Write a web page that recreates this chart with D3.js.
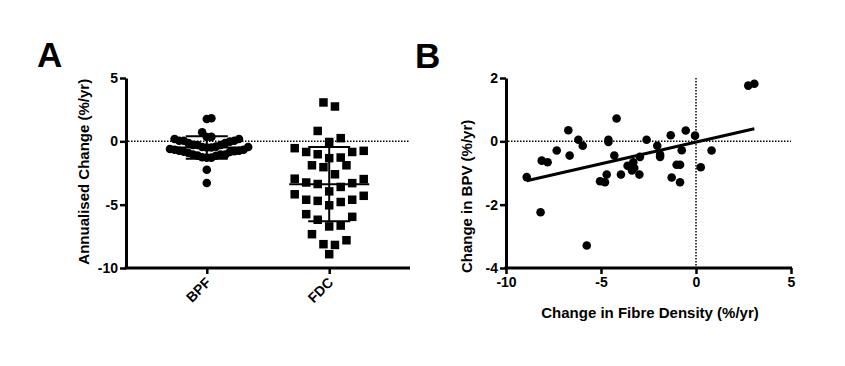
<!DOCTYPE html>
<html lang="en">
  <head>
    <meta charset="utf-8" />
    <title>Annualised change and BPV vs fibre density</title>
    <script src="https://d3js.org/d3.v7.min.js"></script>
    <style>
      body {
        margin: 0;
        background: white;
      }
      text {
        font-family: "Liberation Sans", Arial, sans-serif;
        font-weight: bold;
        fill: black;
      }
      .axis path,
      .axis line {
        stroke: black;
      }
      .axis path {
        stroke-width: 3;
      }
      .axis line {
        stroke-width: 2.5;
      }
      .axis text {
        font-size: 14px;
      }
      .zero {
        stroke: black;
        stroke-width: 1.5;
        stroke-dasharray: 1.5, 1.5;
      }
      .panel {
        font-size: 35px;
      }
      .label {
        font-size: 15px;
      }
    </style>
  </head>
  <body>
    <svg width="845" height="366"></svg>
    <script>
      // change in fibre density (FDC) and in brain volume (BPF / BPV), %/yr, one entry per subject
      const fdc = [
        -8.91, -8.18, -8.12, -7.81, -7.33, -6.72, -6.65, -6.19, -5.96, -5.75,
        -5.05, -4.79, -4.7, -4.61, -4.61, -4.3, -4.18, -3.95, -3.6, -3.37,
        -3.3, -3.25, -2.95, -2.98, -2.6, -2.04, -1.89, -1.89, -1.33, -1.28,
        -1.02, -0.84, -0.75, -0.84, -0.54, -0.05, 0.25, 0.82, 2.75, 3.07,
      ];
      const bpf = [
        -1.13, -2.24, -0.61, -0.66, -0.29, 0.35, -0.45, 0.05, -0.14, -3.29,
        -1.26, -1.29, -1.05, 0.05, -0.02, -0.45, 0.72, -1.05, -0.77, -0.92,
        -0.66, -0.84, -0.49, -1.05, 0.05, -0.14, -0.42, -0.49, 0.19, -1.14,
        -0.74, -0.74, -0.28, -1.29, 0.34, 0.18, -0.82, -0.29, 1.76, 1.82,
      ];
      const groups = ["BPF", "FDC"];
      const ticksA = [-10, -5, 0, 5];
      const ticksBx = [-10, -5, 0, 5];
      const ticksBy = [-4, -2, 0, 2];

      const svg = d3.select("svg");
      const fmt = (d) => String(d); // plain hyphen minus, as in the original

      // ---------- panel A ----------
      const yA = d3.scaleLinear().domain([-10, 5]).range([268, 78]);
      const xA = d3.scalePoint().domain(groups).range([126, 410]).padding(0.66);

      svg.append("text").attr("class", "panel").attr("x", 37).attr("y", 67).text("A");

      svg.append("line")
        .attr("class", "zero")
        .attr("x1", 128).attr("x2", 410)
        .attr("y1", yA(0)).attr("y2", yA(0));

      // sparse column: group points into rows from the top down (a row is binPx tall),
      // then spread each row sideways with the lowest value in the middle
      function columnScatter(values, cx, binPx, spacing) {
        const pts = values.map((v) => ({ v, y: yA(v) })).sort((a, b) => a.y - b.y);
        const rows = [];
        let cur = null;
        pts.forEach((p) => {
          if (!cur || p.y - cur[0].y >= binPx) rows.push((cur = []));
          cur.push(p);
        });
        const out = [];
        rows.forEach((row) => {
          row.sort((a, b) => a.v - b.v);
          const n = row.length;
          row.forEach((p, i) => {
            let off;
            if (n % 2 === 1) off = i === 0 ? 0 : (i % 2 === 1 ? 1 : -1) * Math.ceil(i / 2) * spacing;
            else off = (i % 2 === 0 ? 1 : -1) * (Math.floor(i / 2) + 0.5) * spacing;
            out.push({ x: cx + off, y: p.y, v: p.v });
          });
        });
        return out;
      }

      // dense column: swarm, lowest values placed first near the middle,
      // each next one takes the nearest free slot
      function swarm(values, cx, rowH, colW) {
        const placed = [];
        values
          .map((v) => ({ v, y: yA(v) }))
          .sort((a, b) => a.v - b.v)
          .forEach((p) => {
            for (let k = 0; k < 40; k++) {
              const x = cx + (k === 0 ? 0 : (k % 2 ? 1 : -1) * Math.ceil(k / 2) * colW);
              const hit = placed.some(
                (q) => Math.abs(q.y - p.y) < rowH && Math.abs(q.x - x) < colW * 0.99
              );
              if (!hit) {
                placed.push({ x, y: p.y, v: p.v });
                break;
              }
            }
          });
        return placed;
      }

      const bpfPts = swarm(bpf, xA("BPF"), 9, 4.6);
      const fdcPts = columnScatter(fdc, xA("FDC"), 13, 11.5);

      svg.append("g")
        .selectAll("circle")
        .data(bpfPts)
        .join("circle")
        .attr("cx", (d) => d.x)
        .attr("cy", (d) => d.y)
        .attr("r", 4.3)
        .attr("fill", "black");

      const sq = 8.5;
      svg.append("g")
        .selectAll("rect")
        .data(fdcPts)
        .join("rect")
        .attr("x", (d) => d.x - sq / 2)
        .attr("y", (d) => d.y - sq / 2)
        .attr("width", sq)
        .attr("height", sq)
        .attr("fill", "black");

      // mean and SD bars
      [
        ["BPF", bpf],
        ["FDC", fdc],
      ].forEach(([name, vals]) => {
        const m = d3.mean(vals),
          sd = d3.deviation(vals),
          cx = xA(name);
        const g = svg.append("g").attr("stroke", "black").attr("stroke-width", 2);
        g.append("line").attr("x1", cx - 40).attr("x2", cx + 40).attr("y1", yA(m)).attr("y2", yA(m));
        g.append("line").attr("x1", cx).attr("x2", cx).attr("y1", yA(m + sd)).attr("y2", yA(m - sd));
        [m + sd, m - sd].forEach((v) =>
          g.append("line").attr("x1", cx - 21).attr("x2", cx + 21).attr("y1", yA(v)).attr("y2", yA(v))
        );
      });

      svg.append("g")
        .attr("class", "axis")
        .attr("transform", "translate(126,0)")
        .call(d3.axisLeft(yA).tickValues(ticksA).tickFormat(fmt).tickSize(6).tickPadding(2).tickSizeOuter(0));

      const axA = svg.append("g")
        .attr("class", "axis")
        .attr("transform", "translate(0,268)")
        .call(d3.axisBottom(xA).tickSize(6).tickSizeOuter(0));
      axA.select(".domain").attr("d", "M124.5,0H410");
      axA.selectAll(".tick text")
        .attr("text-anchor", "end")
        .attr("dy", "0.35em")
        .attr("y", 0)
        .attr("transform", "translate(1,12) rotate(-45)");

      svg.append("text")
        .attr("class", "label")
        .attr("text-anchor", "middle")
        .attr("transform", "translate(89," + yA(-2.4) + ") rotate(-90)")
        .text("Annualised Change (%/yr)");

      // ---------- panel B ----------
      const xB = d3.scaleLinear().domain([-10, 5]).range([506, 791]);
      const yB = d3.scaleLinear().domain([-4, 2]).range([268, 78]);

      svg.append("text").attr("class", "panel").attr("x", 415).attr("y", 68).text("B");

      svg.append("line")
        .attr("class", "zero")
        .attr("x1", 508).attr("x2", 791)
        .attr("y1", yB(0)).attr("y2", yB(0));
      svg.append("line")
        .attr("class", "zero")
        .attr("x1", xB(0)).attr("x2", xB(0))
        .attr("y1", yB(2)).attr("y2", 266);

      const pairs = fdc.map((x, i) => [x, bpf[i]]);
      const mx = d3.mean(fdc),
        my = d3.mean(bpf);
      const slope =
        d3.sum(pairs, (p) => (p[0] - mx) * (p[1] - my)) /
        d3.sum(pairs, (p) => (p[0] - mx) ** 2);
      const fit = (x) => my + slope * (x - mx);
      const [x0, x1] = d3.extent(fdc);

      svg.append("g")
        .selectAll("circle")
        .data(pairs)
        .join("circle")
        .attr("cx", (d) => xB(d[0]))
        .attr("cy", (d) => yB(d[1]))
        .attr("r", 4.3)
        .attr("fill", "black");

      svg.append("line")
        .attr("x1", xB(x0)).attr("y1", yB(fit(x0)))
        .attr("x2", xB(x1)).attr("y2", yB(fit(x1)))
        .attr("stroke", "black")
        .attr("stroke-width", 3);

      svg.append("g")
        .attr("class", "axis")
        .attr("transform", "translate(506,0)")
        .call(d3.axisLeft(yB).tickValues(ticksBy).tickFormat(fmt).tickSize(6).tickPadding(2).tickSizeOuter(0));

      const axB = svg.append("g")
        .attr("class", "axis")
        .attr("transform", "translate(0,268)")
        .call(d3.axisBottom(xB).tickValues(ticksBx).tickFormat(fmt).tickSize(6).tickPadding(3).tickSizeOuter(0));
      axB.select(".domain").attr("d", "M504.5,0H792");

      svg.append("text")
        .attr("class", "label")
        .attr("text-anchor", "middle")
        .attr("x", 650)
        .attr("y", 318)
        .text("Change in Fibre Density (%/yr)");

      svg.append("text")
        .attr("class", "label")
        .attr("text-anchor", "middle")
        .attr("transform", "translate(472," + yB(-1.74) + ") rotate(-90)")
        .text("Change in BPV (%/yr)");
    </script>
  </body>
</html>
